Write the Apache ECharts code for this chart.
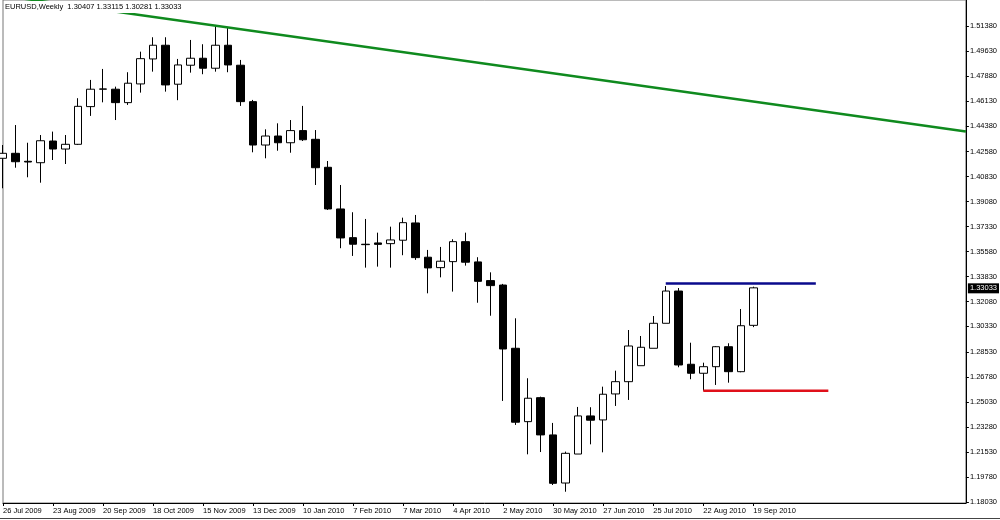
<!DOCTYPE html>
<html>
<head>
<meta charset="utf-8">
<script src="https://cdn.jsdelivr.net/npm/echarts@6/dist/echarts.min.js"></script>
<style>
html,body{margin:0;padding:0;background:#fff;}
#chart{width:1000px;height:520px;}
</style>
</head>
<body>
<div id="chart"></div>
<script>
// Weekly dates (categories)
const categories = [
  '26 Jul 2009','2 Aug 2009','9 Aug 2009','16 Aug 2009','23 Aug 2009','30 Aug 2009','6 Sep 2009','13 Sep 2009',
  '20 Sep 2009','27 Sep 2009','4 Oct 2009','11 Oct 2009','18 Oct 2009','25 Oct 2009','1 Nov 2009','8 Nov 2009',
  '15 Nov 2009','22 Nov 2009','29 Nov 2009','6 Dec 2009','13 Dec 2009','20 Dec 2009','27 Dec 2009','3 Jan 2010',
  '10 Jan 2010','17 Jan 2010','24 Jan 2010','31 Jan 2010','7 Feb 2010','14 Feb 2010','21 Feb 2010','28 Feb 2010',
  '7 Mar 2010','14 Mar 2010','21 Mar 2010','28 Mar 2010','4 Apr 2010','11 Apr 2010','18 Apr 2010','25 Apr 2010',
  '2 May 2010','9 May 2010','16 May 2010','23 May 2010','30 May 2010','6 Jun 2010','13 Jun 2010','20 Jun 2010',
  '27 Jun 2010','4 Jul 2010','11 Jul 2010','18 Jul 2010','25 Jul 2010','1 Aug 2010','8 Aug 2010','15 Aug 2010',
  '22 Aug 2010','29 Aug 2010','5 Sep 2010','12 Sep 2010','19 Sep 2010'
];
// empty future weeks shown to the right of the last bar
const emptyWeeks = 17;

const opens = [
  1.4211,1.4246,1.4190,1.4180,1.4332,1.4276,1.4309,1.4573,1.4695,1.4695,
  1.4601,1.4732,1.4907,1.5003,1.4730,1.4863,1.4912,1.4842,1.5003,1.4863,
  1.4608,1.4304,1.4367,1.4320,1.4405,1.4344,1.4148,1.3856,1.3655,1.3609,
  1.3618,1.3613,1.3637,1.3758,1.3518,1.3445,1.3487,1.3627,1.3485,1.3354,
  1.3323,1.2880,1.2366,1.2534,1.2273,1.1936,1.2139,1.2406,1.2378,1.2560,
  1.2646,1.2758,1.2880,1.3055,1.3281,1.2768,1.2705,1.2751,1.2891,1.2716,
  1.30407
];
const closes = [
  1.4246,1.4187,1.4185,1.4334,1.4276,1.4309,1.4575,1.4695,1.4697,1.4601,
  1.4737,1.4909,1.5003,1.4725,1.4865,1.4912,1.4842,1.5003,1.4865,1.4608,
  1.4304,1.4367,1.4320,1.4405,1.4341,1.4145,1.3856,1.3653,1.3609,1.3606,
  1.3608,1.3639,1.3760,1.3515,1.3443,1.3490,1.3627,1.3483,1.3349,1.3319,
  1.2875,1.2362,1.2530,1.2273,1.1934,1.2144,1.2406,1.2376,1.2558,1.2646,
  1.2896,1.2887,1.3055,1.3281,1.2763,1.2705,1.2751,1.2891,1.2716,1.3038,
  1.33033
];
const lows = [
  1.4001,1.4145,1.4078,1.4040,1.4199,1.4171,1.4304,1.4508,1.4603,1.4479,
  1.4585,1.4671,1.4818,1.4678,1.4618,1.4811,1.4800,1.4818,1.4814,1.4578,
  1.4253,1.4211,1.4264,1.4250,1.4332,1.4024,1.3849,1.3581,1.3527,1.3445,
  1.3452,1.3445,1.3532,1.3499,1.3265,1.3377,1.3277,1.3459,1.3199,1.3108,
  1.2511,1.2343,1.2137,1.2153,1.1922,1.1875,1.2139,1.2207,1.2151,1.2476,
  1.2518,1.2758,1.2880,1.3055,1.2747,1.2663,1.2583,1.2623,1.2639,1.2712,
  1.30281
];
const highs = [
  1.4304,1.4444,1.4320,1.4374,1.4398,1.4374,1.4632,1.4760,1.4837,1.4713,
  1.4814,1.4958,1.5059,1.5059,1.4907,1.5040,1.5010,1.5145,1.5126,1.4900,
  1.4620,1.4414,1.4456,1.4479,1.4578,1.4409,1.4192,1.4024,1.3833,1.3786,
  1.3690,1.3732,1.3795,1.3814,1.3569,1.3590,1.3644,1.3690,1.3518,1.3412,
  1.3331,1.3090,1.2670,1.2541,1.2357,1.2156,1.2469,1.2467,1.2611,1.2723,
  1.3008,1.2966,1.3106,1.3316,1.3302,1.2919,1.2779,1.2896,1.2915,1.3155,
  1.33115
];

// price-axis tick labels
const yTicks = [1.18030,1.19780,1.21530,1.23280,1.25030,1.26780,1.28530,1.30330,1.32080,1.33830,
                1.35580,1.37330,1.39080,1.40830,1.42580,1.44380,1.46130,1.47880,1.49630,1.51380];
const yMin = 1.1796, yMax = 1.5320;

// drawn objects: [bar index, price]
const trendLine = [[0, 1.5350], [77, 1.4399]];
const resistanceLine = [[53, 1.3333], [65, 1.3333]];
const supportLine = [[56, 1.2583], [66, 1.2583]];

const symbolText = 'EURUSD,Weekly';
const lastPrice = 1.33033;

const allCats = categories.concat(new Array(emptyWeeks).fill(''));
const ohlc = opens.map((o, i) => [o, closes[i], lows[i], highs[i]]);
const font = 'Liberation Sans';
const fs = 7.5;

const chart = echarts.init(document.getElementById('chart'), null, {renderer: 'canvas'});
const showTick = (idx, val) => idx % 4 === 0 && val !== '';
chart.setOption({
  animation: false,
  backgroundColor: '#fff',
  title: {
    text: symbolText + '  ' + [opens[60], highs[60], lows[60], closes[60]].map(v => v.toFixed(5)).join(' '),
    left: 4, top: 1, padding: [2, 1],
    backgroundColor: '#fff',
    textStyle: {fontSize: fs, fontWeight: 'normal', fontFamily: font, color: '#000'}
  },
  grid: {left: 3, right: 32, top: 0, bottom: 17, show: true, borderColor: '#777', borderWidth: 1, containLabel: false},
  xAxis: {
    type: 'category',
    data: allCats,
    boundaryGap: false,
    axisLine: {show: true, lineStyle: {color: '#000', width: 1}},
    axisTick: {show: true, length: 3, interval: showTick, lineStyle: {color: '#000'}},
    axisLabel: {interval: showTick, align: 'left', margin: 4, fontSize: fs, fontFamily: font, color: '#000'},
    splitLine: {show: false}
  },
  yAxis: {
    type: 'value',
    position: 'right',
    min: yMin, max: yMax,
    axisLine: {show: true, lineStyle: {color: '#000', width: 1}},
    axisTick: {show: true, length: 3, customValues: yTicks, lineStyle: {color: '#000'}},
    axisLabel: {customValues: yTicks, formatter: v => v.toFixed(5), margin: 4, fontSize: fs, fontFamily: font, color: '#000'},
    splitLine: {show: false}
  },
  graphic: [{
    type: 'line', shape: {x1: 0, y1: 518.5, x2: 1000, y2: 518.5},
    style: {stroke: '#444', lineWidth: 1}, silent: true
  }],
  series: [
    {
      type: 'candlestick',
      data: ohlc,
      barWidth: 8,
      clip: true,
      itemStyle: {
        color: '#fff', color0: '#000',
        borderColor: '#000', borderColor0: '#000', borderColorDoji: '#000',
        borderWidth: 1
      },
      markLine: {
        silent: true,
        symbol: 'none',
        lineStyle: {color: 'rgba(0,0,0,0)', width: 1, type: 'solid'},
        label: {
          show: true, position: 'end', distance: 2,
          formatter: () => lastPrice.toFixed(5),
          backgroundColor: '#000', color: '#fff', padding: [1, 2],
          fontSize: fs, fontFamily: font
        },
        data: [{yAxis: lastPrice}]
      }
    },
    {
      type: 'line', data: trendLine, symbol: 'none', clip: true,
      lineStyle: {color: '#0f8a1e', width: 2.5}, z: 3
    },
    {
      type: 'line', data: resistanceLine, symbol: 'none',
      lineStyle: {color: '#0a0a8c', width: 2.5}, z: 3
    },
    {
      type: 'line', data: supportLine, symbol: 'none',
      lineStyle: {color: '#e0101a', width: 2.5}, z: 3
    }
  ]
});
</script>
</body>
</html>
